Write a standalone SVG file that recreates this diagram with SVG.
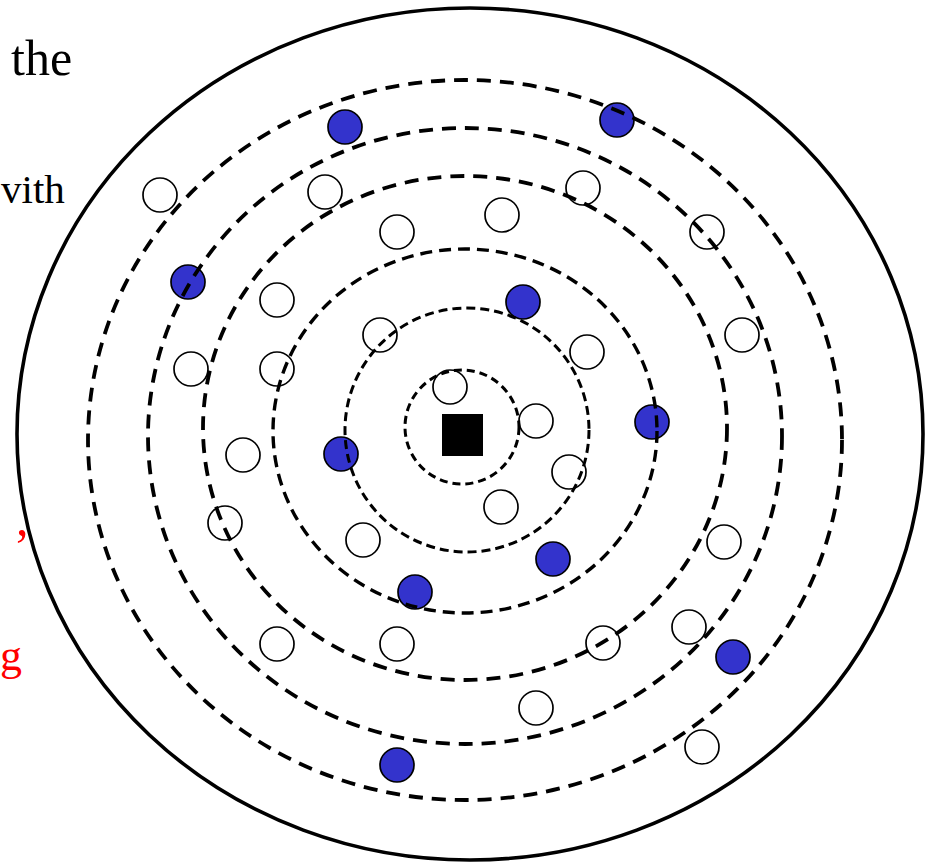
<svg xmlns="http://www.w3.org/2000/svg" width="936" height="868" viewBox="0 0 936 868">
<style>
.txt{font-family:"Liberation Serif","Times New Roman",serif;font-size:50px;fill:#000}
.red{fill:#ff0000}
.ring{fill:none;stroke:#000;stroke-width:3.8;stroke-dasharray:14 9}
.ring3{fill:none;stroke:#000;stroke-width:3.4;stroke-dasharray:12 7}
.ring2{fill:none;stroke:#000;stroke-width:3;stroke-dasharray:9 5}
.w{fill:#fff;stroke:#000;stroke-width:1.7}
.b{fill:#3333cc;stroke:#000;stroke-width:1.7}
</style>
<rect x="0" y="0" width="936" height="868" fill="#fff"/>
<text class="txt" x="11" y="75">the</text>
<text class="txt" x="1" y="203" style="font-size:41px">vith</text>
<text class="txt red" x="16" y="535">,</text>
<text class="txt red" x="0" y="670" style="font-size:44px">g</text>
<ellipse cx="470" cy="434" rx="453" ry="426" fill="none" stroke="#000" stroke-width="3.6"/>
<g id="nodes">
<g id="b1"><circle class="b" cx="345" cy="127" r="17"/></g>
<g id="b2"><circle class="b" cx="617" cy="120" r="17"/></g>
<g id="b3"><circle class="b" cx="188" cy="282" r="17"/></g>
<g id="b4"><circle class="b" cx="523" cy="302" r="17"/></g>
<g id="b5"><circle class="b" cx="652" cy="422" r="17"/></g>
<g id="b6"><circle class="b" cx="341" cy="454" r="17"/></g>
<g id="b7"><circle class="b" cx="553" cy="559" r="17"/></g>
<g id="b8"><circle class="b" cx="415" cy="592" r="17"/></g>
<g id="b9"><circle class="b" cx="733" cy="657" r="17"/></g>
<g id="b10"><circle class="b" cx="397" cy="765" r="17"/></g>
<g id="w1"><circle class="w" cx="160" cy="195" r="17"/></g>
<g id="w2"><circle class="w" cx="325" cy="192" r="17"/></g>
<g id="w3"><circle class="w" cx="583" cy="188" r="17"/></g>
<g id="w4"><circle class="w" cx="502" cy="215" r="17"/></g>
<g id="w5"><circle class="w" cx="397" cy="232" r="17"/></g>
<g id="w6"><circle class="w" cx="707" cy="232" r="17"/></g>
<g id="w7"><circle class="w" cx="277" cy="300" r="17"/></g>
<g id="w8"><circle class="w" cx="742" cy="335" r="17"/></g>
<g id="w9"><circle class="w" cx="380" cy="335" r="17"/></g>
<g id="w10"><circle class="w" cx="587" cy="352" r="17"/></g>
<g id="w11"><circle class="w" cx="191" cy="369" r="17"/></g>
<g id="w12"><circle class="w" cx="277" cy="369" r="17"/></g>
<g id="w13"><circle class="w" cx="450" cy="387" r="17"/></g>
<g id="w14"><circle class="w" cx="536" cy="421" r="17"/></g>
<g id="w15"><circle class="w" cx="243" cy="455" r="17"/></g>
<g id="w16"><circle class="w" cx="569" cy="472" r="17"/></g>
<g id="w17"><circle class="w" cx="501" cy="507" r="17"/></g>
<g id="w18"><circle class="w" cx="225" cy="523" r="17"/></g>
<g id="w19"><circle class="w" cx="363" cy="540" r="17"/></g>
<g id="w20"><circle class="w" cx="724" cy="542" r="17"/></g>
<g id="w21"><circle class="w" cx="689" cy="627" r="17"/></g>
<g id="w22"><circle class="w" cx="603" cy="643" r="17"/></g>
<g id="w23"><circle class="w" cx="277" cy="644" r="17"/></g>
<g id="w24"><circle class="w" cx="397" cy="644" r="17"/></g>
<g id="w25"><circle class="w" cx="536" cy="708" r="17"/></g>
<g id="w26"><circle class="w" cx="702" cy="747" r="17"/></g>
</g>
<g id="center"><rect x="442" y="414" width="41" height="42" fill="#000"/></g>
<g id="rings">
<ellipse class="ring" cx="465" cy="440" rx="377" ry="360"/>
<ellipse class="ring" cx="465" cy="436" rx="317" ry="308"/>
<ellipse class="ring" cx="465" cy="428" rx="262" ry="252"/>
<ellipse class="ring3" cx="465" cy="431" rx="192" ry="182"/>
<circle class="ring2" cx="467" cy="430" r="122"/>
<circle class="ring2" cx="462" cy="427" r="57" style="stroke-dasharray:8 5"/>
</g>
</svg>
